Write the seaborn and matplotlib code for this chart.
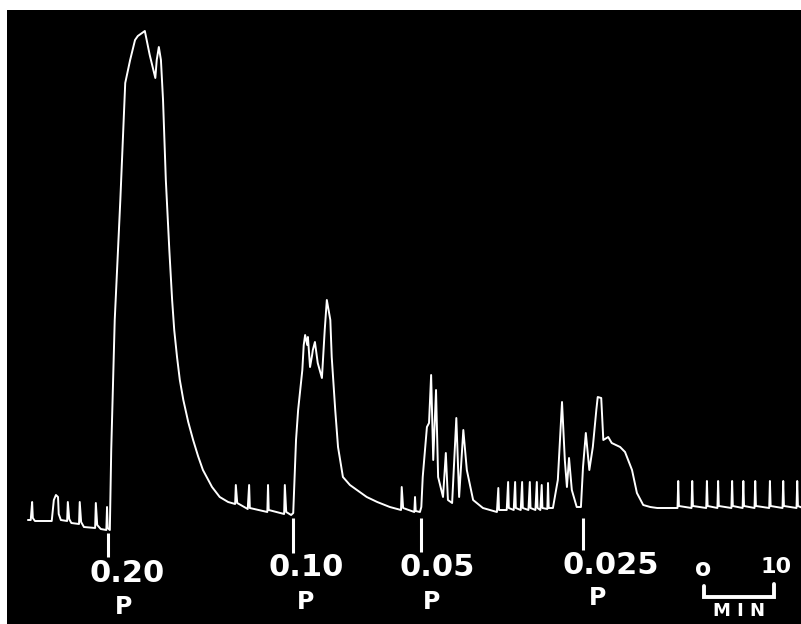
import matplotlib
matplotlib.use("Agg")
import matplotlib.pyplot as plt
import numpy as np
import pandas as pd
import seaborn as sns

# chart trace: time (min) and pen deflection (arbitrary tension units)
TRACE_TIME = [
    -0.3, 0.1, 0.3, 0.4, 0.7, 3.1, 3.4, 3.7, 4.0, 4.1, 4.4, 5.3, 5.4, 5.6, 5.9,
    7.0, 7.1, 7.3, 7.7, 9.3, 9.4, 9.6, 10.1, 10.9, 11.0, 11.1, 11.4,
    11.6, 12.1, 12.9, 13.6, 14.3, 15.0, 15.4, 16.4, 17.1, 17.9, 18.1, 18.4, 18.7,
    19.0, 19.4, 19.9, 20.3, 20.6, 21.0, 21.4, 21.9, 22.6, 23.3, 24.0, 24.7, 26.0,
    27.1, 28.3,
    29.3, 29.4, 29.6, 31.1, 31.3, 31.4, 33.9, 34.0, 34.1, 36.3, 36.4, 36.6,
    37.3, 37.6, 38.0, 38.3, 38.6, 38.9, 39.1, 39.3, 39.6, 39.7, 40.0, 40.3, 40.4,
    40.7, 41.1, 41.7, 42.1, 42.4, 42.9, 43.1, 43.6, 44.0, 44.7, 45.7, 46.7, 48.1,
    49.6, 51.4, 53.0, 53.1, 53.3, 54.9, 55.0, 55.1, 55.7,
    55.9, 56.1, 56.7, 57.0, 57.3, 57.6, 58.0, 58.3, 59.0, 59.4, 59.7, 60.3, 60.9,
    61.3, 61.9, 62.4, 63.3, 64.7, 66.7, 66.9, 67.0,
    68.1, 68.3, 68.4, 69.1, 69.3, 69.4, 70.1, 70.3, 70.4, 71.2, 71.4, 71.5,
    72.2, 72.4, 72.5, 72.9, 73.1, 73.2, 73.9, 74.0, 74.1,
    74.7, 75.4, 76.0, 76.4, 76.7, 77.0, 77.4, 78.1, 78.7, 79.0, 79.4, 79.9, 80.4,
    80.9, 81.1, 81.6, 81.9, 82.6, 83.1, 84.3, 85.0, 86.0, 86.7, 87.6, 88.6, 89.6,
    92.4, 92.5, 92.6, 92.7, 94.5, 94.6, 94.7, 96.6, 96.7, 96.8, 98.2, 98.3, 98.4,
    100.2, 100.3, 100.4, 101.8, 101.9, 102.0, 103.5, 103.6, 103.7,
    105.6, 105.7, 105.8, 107.5, 107.6, 107.7, 109.5, 109.6, 109.7, 110.4,
]
TRACE_TENSION = [
    1.0, 1.0, 2.8, 1.2, 0.9, 0.9, 3.0, 3.5, 3.3, 1.6, 1.0, 0.9, 2.8, 1.1, 0.7,
    0.6, 2.8, 0.8, 0.3, 0.2, 2.7, 0.5, 0.1, 0.0, 2.3, 0.2, 0.0,
    8.0, 21.0, 33.0, 44.7, 47.0, 49.0, 49.4, 49.9, 47.5, 45.2, 47.0, 48.3, 47.0,
    43.0, 35.0, 28.0, 23.0, 20.0, 17.3, 15.0, 13.0, 10.8, 9.0, 7.4, 6.0, 4.3,
    3.3, 2.8,
    2.6, 4.5, 2.7, 2.1, 4.5, 2.2, 1.8, 4.5, 2.0, 1.6, 4.5, 1.8,
    1.5, 1.7, 9.0, 12.0, 14.0, 16.0, 18.5, 19.5, 18.5, 19.3, 16.3, 17.5, 18.0,
    18.8, 16.7, 15.2, 20.0, 23.0, 21.0, 17.3, 12.0, 8.3, 5.3, 4.5, 4.0, 3.3,
    2.8, 2.3, 2.0, 4.3, 2.2, 1.8, 3.3, 1.9, 1.8,
    2.3, 5.3, 10.3, 10.7, 15.5, 7.0, 14.0, 5.3, 3.3, 7.7, 3.0, 2.7, 11.2,
    3.3, 10.0, 6.0, 3.0, 2.2, 1.8, 4.2, 2.0,
    2.0, 4.8, 2.2, 2.0, 4.8, 2.2, 2.0, 4.8, 2.2, 2.0, 4.8, 2.2,
    2.0, 4.8, 2.2, 2.0, 4.5, 2.2, 2.1, 4.7, 2.2,
    2.2, 5.0, 12.8, 7.0, 4.3, 7.2, 4.0, 2.3, 2.3, 6.3, 9.7, 6.0, 8.3,
    12.0, 13.3, 13.2, 9.0, 9.3, 8.7, 8.3, 7.8, 6.0, 3.7, 2.5, 2.3, 2.2,
    2.2, 2.2, 4.9, 2.4, 2.2, 4.9, 2.4, 2.2, 4.9, 2.4, 2.2, 4.9, 2.4,
    2.2, 4.9, 2.4, 2.2, 4.9, 2.4, 2.2, 4.9, 2.4,
    2.2, 4.9, 2.4, 2.2, 4.9, 2.4, 2.2, 4.9, 2.4, 2.2,
]

DOSE_LABELS = ["0.20", "0.10", "0.05", "0.025"]
DOSE_TIMES = [11.1, 37.6, 55.9, 79.0]
DOSE_AGENT = ["P", "P", "P", "P"]

SCALE_START = 96.3
SCALE_MINUTES = 10


def main() -> None:
    sns.set_theme(style="white")
    plt.rcParams["font.family"] = ["DejaVu Sans"]

    df = pd.DataFrame({"time": TRACE_TIME, "tension": TRACE_TENSION})

    fig = plt.figure(figsize=(8.01, 6.24), dpi=100, facecolor="white")
    ax = fig.add_axes([7 / 801, 0, 794 / 801, 614 / 624])
    ax.set_facecolor("black")

    sns.lineplot(data=df, x="time", y="tension", sort=False, estimator=None,
                 color="white", linewidth=1.4, ax=ax)

    # dose markers under the trace
    marker_tops = [-0.3, 1.2, 1.2, 1.2]
    marker_bottoms = [-2.7, -2.3, -2.2, -2.0]
    num_offsets = [2.8, 1.8, 2.2, 3.9]
    num_y = [-4.3, -3.8, -3.8, -3.5]
    p_offsets = [2.3, 1.7, 1.5, 2.1]
    p_y = [-7.7, -7.2, -7.2, -6.8]
    for i, (lab, t) in enumerate(zip(DOSE_LABELS, DOSE_TIMES)):
        ax.plot([t, t], [marker_tops[i], marker_bottoms[i]], color="white",
                linewidth=2.2, solid_capstyle="butt")
        ax.text(t + num_offsets[i], num_y[i], lab, color="white", fontsize=22,
                fontweight="bold", ha="center", va="center")
        ax.text(t + p_offsets[i], p_y[i], DOSE_AGENT[i], color="white", fontsize=17,
                fontweight="bold", ha="center", va="center")

    # time scale bracket
    x0, x1 = SCALE_START, SCALE_START + SCALE_MINUTES
    ax.plot([x0, x0, x1, x1], [-5.6, -6.7, -6.7, -5.4], color="white",
            linewidth=2.8, solid_joinstyle="miter")
    ax.text(x0 - 0.1, -3.9, "o", color="white", fontsize=17, fontweight="bold",
            ha="center", va="center")
    ax.text(x1 + 0.3, -3.7, "10", color="white", fontsize=16, fontweight="bold",
            ha="center", va="center")
    ax.text((x0 + x1) / 2, -8.1, "M I N", color="white", fontsize=13,
            fontweight="bold", ha="center", va="center")

    ax.set_xlim(-3.29, 110.14)
    ax.set_ylim(-9.4, 52)
    ax.set_xlabel("")
    ax.set_ylabel("")
    ax.set_xticks([])
    ax.set_yticks([])
    for spine in ax.spines.values():
        spine.set_visible(False)

    fig.savefig("out.png", dpi=100, facecolor="white")
    plt.close(fig)


if __name__ == "__main__":
    main()
